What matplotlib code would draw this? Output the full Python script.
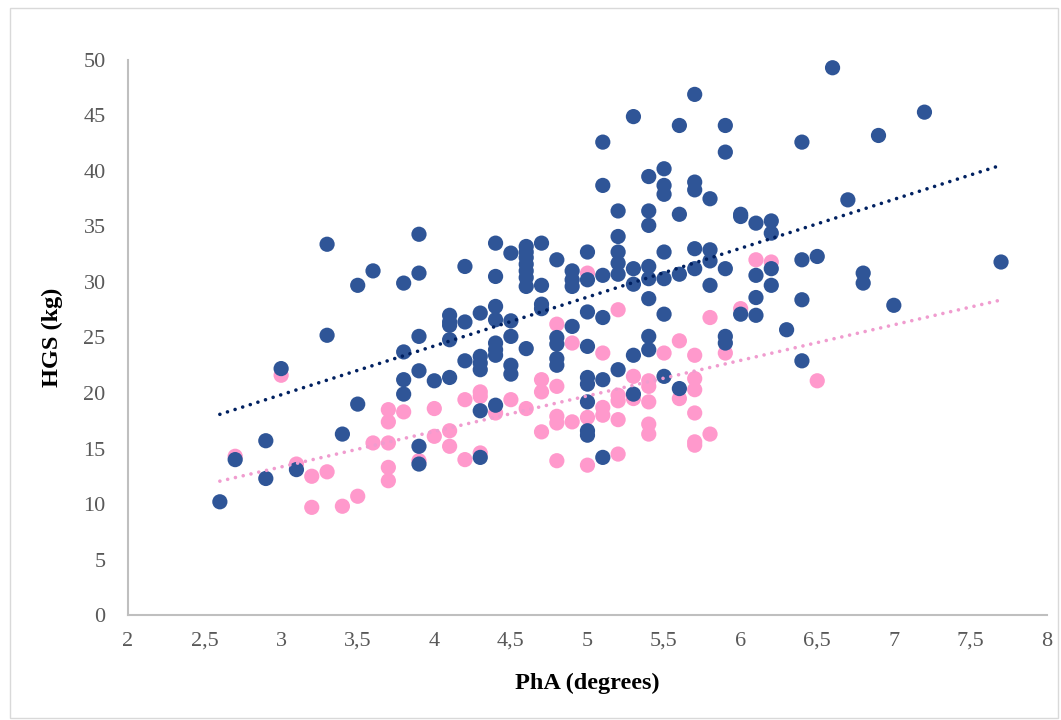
import matplotlib
matplotlib.use("Agg")
import matplotlib.pyplot as plt
from matplotlib.patches import Rectangle

plt.rcParams['font.family'] = ['Liberation Serif', 'DejaVu Serif']

# hombres (azul) - PhA / HGS
male_pha = [2.6, 2.7, 2.9, 2.9, 3.0, 3.1, 3.3, 3.3, 3.4, 3.5, 3.5, 3.6,
            3.8, 3.8, 3.8, 3.8, 3.9, 3.9, 3.9, 3.9, 3.9, 3.9, 4.0,
            4.1, 4.1, 4.1, 4.1, 4.1, 4.2, 4.2, 4.2,
            4.3, 4.3, 4.3, 4.3, 4.3, 4.3,
            4.4, 4.4, 4.4, 4.4, 4.4, 4.4, 4.4, 4.4,
            4.5, 4.5, 4.5, 4.5, 4.5,
            4.6, 4.6, 4.6, 4.6, 4.6, 4.6, 4.6, 4.6,
            4.7, 4.7, 4.7, 4.7, 4.8, 4.8, 4.8, 4.8, 4.8,
            4.9, 4.9, 4.9, 4.9,
            5.0, 5.0, 5.0, 5.0, 5.0, 5.0, 5.0, 5.0, 5.0,
            5.1, 5.1, 5.1, 5.1, 5.1, 5.1,
            5.2, 5.2, 5.2, 5.2, 5.2, 5.2,
            5.3, 5.3, 5.3, 5.3, 5.3,
            5.4, 5.4, 5.4, 5.4, 5.4, 5.4, 5.4, 5.4,
            5.5, 5.5, 5.5, 5.5, 5.5, 5.5, 5.5,
            5.6, 5.6, 5.6, 5.6, 5.7, 5.7, 5.7, 5.7, 5.7,
            5.8, 5.8, 5.8, 5.8, 5.9, 5.9, 5.9, 5.9, 5.9,
            6.0, 6.0, 6.0, 6.1, 6.1, 6.1, 6.1, 6.2, 6.2, 6.2, 6.2,
            6.3, 6.4, 6.4, 6.4, 6.4, 6.5, 6.6, 6.7, 6.8, 6.8, 6.9, 7.0, 7.2, 7.7]
male_hgs = [10.2, 14.0, 15.7, 12.3, 22.2, 13.1, 33.4, 25.2, 16.3, 29.7, 19.0, 31.0,
            29.9, 23.7, 21.2, 19.9, 34.3, 30.8, 25.1, 22.0, 15.2, 13.6, 21.1,
            27.0, 26.4, 26.1, 24.8, 21.4, 31.4, 26.4, 22.9,
            27.2, 23.3, 22.7, 22.1, 18.4, 14.2,
            33.5, 30.5, 27.8, 26.6, 24.5, 23.9, 23.4, 18.9,
            32.6, 26.5, 25.1, 22.5, 21.7,
            33.2, 32.7, 32.2, 31.6, 31.0, 30.4, 29.6, 24.0,
            33.5, 29.7, 28.0, 27.6, 32.0, 25.0, 24.4, 23.1, 22.5,
            31.0, 30.2, 29.6, 26.0,
            32.7, 30.2, 27.3, 24.2, 21.4, 20.8, 19.2, 16.6, 16.2,
            42.6, 38.7, 30.6, 26.8, 21.2, 14.2,
            36.4, 34.1, 32.7, 31.7, 30.7, 22.1,
            44.9, 31.2, 29.8, 23.4, 19.9,
            39.5, 36.4, 35.1, 31.4, 30.3, 28.5, 25.1, 23.9,
            40.2, 38.7, 37.9, 32.7, 30.3, 27.1, 21.5,
            44.1, 36.1, 30.7, 20.4, 46.9, 39.0, 38.3, 33.0, 31.2,
            37.5, 32.9, 31.9, 29.7, 44.1, 41.7, 31.2, 25.1, 24.5,
            36.1, 35.9, 27.1, 35.3, 30.6, 28.6, 27.0, 35.5, 34.4, 31.2, 29.7,
            25.7, 42.6, 32.0, 28.4, 22.9, 32.3, 49.3, 37.4, 30.8, 29.9, 43.2, 27.9, 45.3, 31.8]

# mujeres (rosa)
female_pha = [2.7, 3.0, 3.1, 3.2, 3.2, 3.3, 3.4, 3.5, 3.6,
              3.7, 3.7, 3.7, 3.7, 3.7, 3.8, 3.9, 4.0, 4.0, 4.1, 4.1,
              4.2, 4.2, 4.3, 4.3, 4.3, 4.4, 4.5, 4.6,
              4.7, 4.7, 4.7, 4.8, 4.8, 4.8, 4.8, 4.8,
              4.9, 4.9, 5.0, 5.0, 5.0, 5.1, 5.1, 5.1,
              5.2, 5.2, 5.2, 5.2, 5.2, 5.3, 5.3,
              5.4, 5.4, 5.4, 5.4, 5.4, 5.5, 5.6, 5.6,
              5.7, 5.7, 5.7, 5.7, 5.7, 5.7, 5.8, 5.8, 5.9, 6.0, 6.1, 6.2, 6.5]
female_hgs = [14.3, 21.6, 13.6, 12.5, 9.7, 12.9, 9.8, 10.7, 15.5,
              18.5, 17.4, 15.5, 13.3, 12.1, 18.3, 13.9, 18.6, 16.1, 16.6, 15.2,
              19.4, 14.0, 20.1, 19.7, 14.6, 18.2, 19.4, 18.6,
              21.2, 20.1, 16.5, 26.2, 20.6, 17.9, 17.3, 13.9,
              24.5, 17.4, 30.8, 17.8, 13.5, 23.6, 18.7, 18.0,
              27.5, 19.8, 19.3, 17.6, 14.5, 21.5, 19.5,
              21.1, 20.6, 19.2, 17.2, 16.3, 23.6, 24.7, 19.5,
              23.4, 21.3, 20.3, 18.2, 15.6, 15.3, 26.8, 16.3, 23.6, 27.6, 32.0, 31.8, 21.1]

# lineas de tendencia (pendiente, ordenada)
male_trend = (4.40, 6.64)
female_trend = (3.20, 3.74)

x_ticks = [2, 2.5, 3, 3.5, 4, 4.5, 5, 5.5, 6, 6.5, 7, 7.5, 8]
x_tick_labels = ['2', '2,5', '3', '3,5', '4', '4,5', '5', '5,5', '6', '6,5', '7', '7,5', '8']
y_ticks = [0, 5, 10, 15, 20, 25, 30, 35, 40, 45, 50]

fig = plt.figure(figsize=(10.61, 7.2), dpi=100)
ax = fig.add_axes([0.1206, 0.1458, 0.8662, 0.7709])

ax.scatter(female_pha, female_hgs, s=120, color='#FF99CC', edgecolors='none', zorder=2)
ax.scatter(male_pha, male_hgs, s=120, color='#2F5597', edgecolors='none', zorder=3)

xmin = min(male_pha + female_pha)
xmax = max(male_pha + female_pha)
for (m, b), c in [(male_trend, '#002060'), (female_trend, '#F09CCF')]:
    ax.plot([xmin, xmax], [m * xmin + b, m * xmax + b], color=c, lw=2.6,
            linestyle=(0, (0.01, 2.2)), dash_capstyle='round', zorder=4)

ax.set_xlim(2, 8)
ax.set_ylim(0, 50)
ax.set_xticks(x_ticks)
ax.set_xticklabels(x_tick_labels)
ax.set_yticks(y_ticks)
ax.tick_params(length=0, labelsize=16, colors='#595959')
ax.tick_params(axis='y', pad=16)
ax.tick_params(axis='x', pad=12)

for s in ['top', 'right']:
    ax.spines[s].set_visible(False)
for s in ['left', 'bottom']:
    ax.spines[s].set_color('#BFBFBF')
    ax.spines[s].set_linewidth(1.5)

ax.set_xlabel('PhA (degrees)', fontsize=17.5, fontweight='bold', labelpad=16)
ax.set_ylabel('HGS (kg)', fontsize=17.5, fontweight='bold', labelpad=15)

# borde del area del grafico
fig.patches.append(Rectangle((10 / 1061, 2 / 720), 1048 / 1061, 710 / 720,
                             transform=fig.transFigure, fill=False,
                             edgecolor='#D9D9D9', lw=1))

fig.savefig('out.png', dpi=100)
